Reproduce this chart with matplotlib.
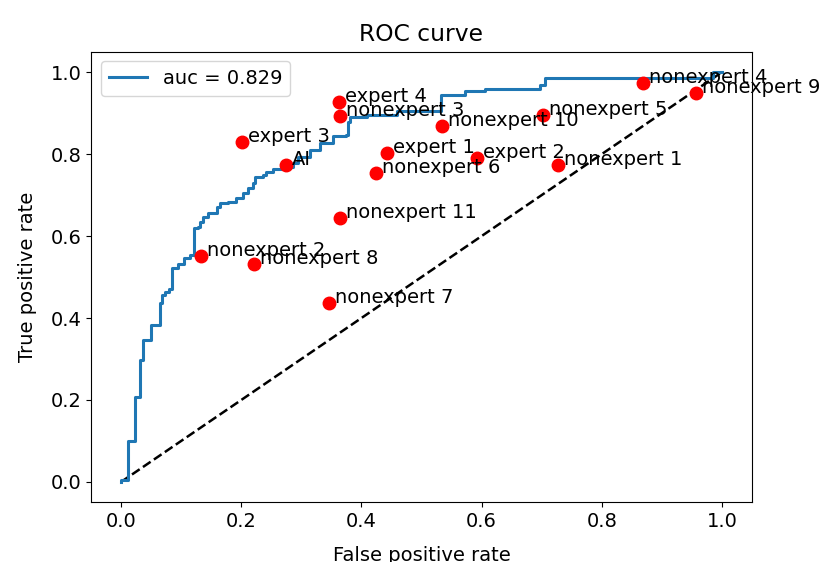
import matplotlib
matplotlib.use("Agg")
import matplotlib.pyplot as plt

plt.rcParams['font.size'] = 14

# ROC curve corners: fpr where tpr jumps, tpr after the jump
fpr = [0.0, 0.0, 0.012, 0.023, 0.032, 0.037, 0.049, 0.064, 0.068, 0.073, 0.080,
       0.084, 0.095, 0.104, 0.115, 0.121, 0.128, 0.131, 0.137, 0.145, 0.159,
       0.165, 0.178, 0.192, 0.203, 0.212, 0.220, 0.223, 0.236, 0.242, 0.253,
       0.270, 0.286, 0.295, 0.314, 0.331, 0.353, 0.375, 0.378, 0.381, 0.409,
       0.459, 0.533, 0.572, 0.606, 0.697, 0.705, 0.985, 1.0]
tpr = [0.0, 0.005, 0.100, 0.208, 0.298, 0.346, 0.383, 0.436, 0.456, 0.464, 0.470,
       0.521, 0.533, 0.546, 0.554, 0.619, 0.623, 0.635, 0.647, 0.656, 0.671,
       0.680, 0.684, 0.692, 0.705, 0.717, 0.729, 0.745, 0.749, 0.757, 0.763,
       0.769, 0.778, 0.793, 0.810, 0.826, 0.844, 0.846, 0.879, 0.891, 0.895,
       0.905, 0.944, 0.954, 0.960, 0.968, 0.985, 1.0, 1.0]
auc = 0.829

# readers (fpr, tpr)
names = ['expert 4', 'nonexpert 3', 'expert 3', 'AI', 'nonexpert 10', 'nonexpert 5',
         'nonexpert 4', 'nonexpert 9', 'expert 1', 'nonexpert 6', 'expert 2',
         'nonexpert 1', 'nonexpert 11', 'nonexpert 2', 'nonexpert 8', 'nonexpert 7']
px = [0.363, 0.364, 0.201, 0.275, 0.534, 0.702, 0.869, 0.957, 0.443, 0.424, 0.592,
      0.727, 0.364, 0.133, 0.221, 0.346]
py = [0.927, 0.893, 0.829, 0.773, 0.868, 0.895, 0.973, 0.949, 0.802, 0.754, 0.790,
      0.773, 0.644, 0.551, 0.532, 0.437]

fig = plt.figure(figsize=(8.2, 5.62), dpi=100)
ax = fig.add_axes([0.111, 0.106, 0.806, 0.802])

ax.plot([0, 1], [0, 1], 'k--', linewidth=1.8)
ax.step(fpr, tpr, where='post', linewidth=2.2, label='auc = %.3f' % auc)
ax.plot(px, py, 'ro', markersize=9)
for n, x, y in zip(names, px, py):
    ax.text(x + 0.01, y, n)

ax.set_xlabel('False positive rate', labelpad=11)
ax.set_ylabel('True positive rate', labelpad=10)
ax.set_title('ROC curve', pad=8)
ax.legend(loc='upper left')

fig.savefig('out.png', dpi=100)
